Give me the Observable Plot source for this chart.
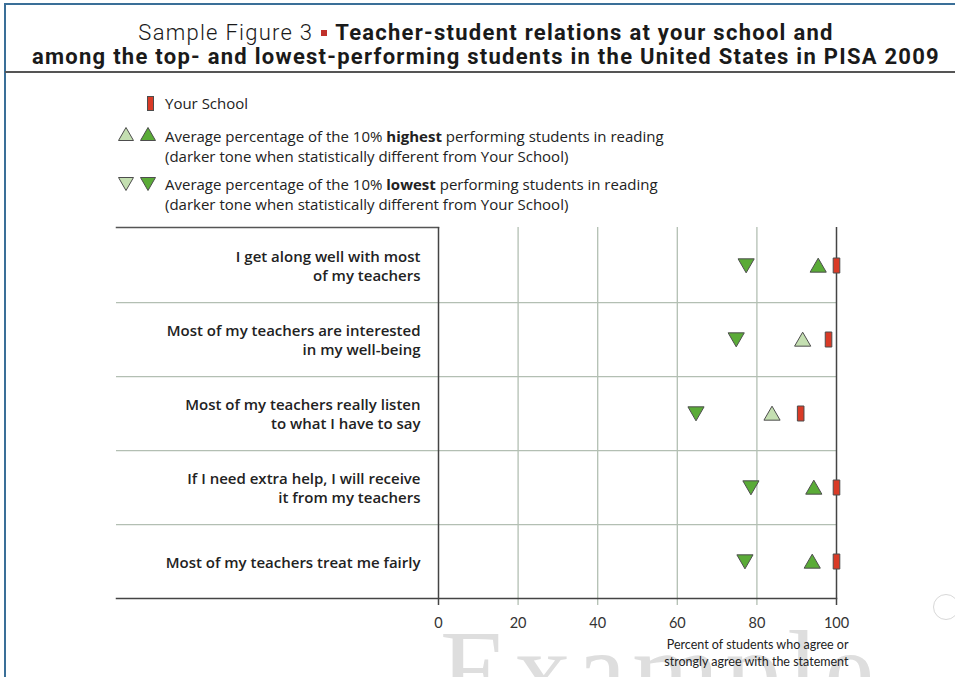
<!DOCTYPE html>
<html>
<head>
<meta charset="utf-8">
<script src="https://cdn.jsdelivr.net/npm/d3@7"></script>
<script src="https://cdn.jsdelivr.net/npm/@observablehq/plot@0.6"></script>
<style>
  html, body { margin: 0; padding: 0; background: #fff; }
  body { width: 955px; height: 677px; position: relative; overflow: hidden; font-family: "Open Sans", Lato, sans-serif; color: #222; }
  .frame-top { position: absolute; left: 4px; top: 3px; width: 960px; height: 2px; background: #3a6f98; }
  .frame-left { position: absolute; left: 4px; top: 3px; width: 2px; height: 700px; background: #3a6f98; }
  .title-sep { position: absolute; left: 5px; top: 71px; width: 960px; height: 2px; background: #555; }
  .title { position: absolute; left: 0; top: 21px; width: 972px; text-align: center; font-family: Roboto, sans-serif; font-size: 22px; line-height: 24px; color: #1a1a1a; white-space: nowrap; }
  .title .light { font-weight: 300; }
  .title .b { font-weight: 700; }
  .title .sq { display: inline-block; width: 6px; height: 6px; background: #c0302a; vertical-align: middle; margin: 0 8px 3px 8px; }
  .legend { position: absolute; left: 0; top: 0; font-size: 15px; line-height: 20px; }
  .legend .item { position: absolute; left: 165px; white-space: nowrap; }
  .legend .item b { font-weight: 700; }
  .legend svg { position: absolute; overflow: visible; }
  .watermark { position: absolute; left: 440px; top: 650px; font-family: "Liberation Serif", serif; font-size: 112px; line-height: 40px; color: #dedede; letter-spacing: 6px; white-space: nowrap; }
  .ring { position: absolute; left: 933px; top: 594px; width: 24px; height: 24px; border: 1.5px solid #d8d8d8; border-radius: 50%; }
  #chart { position: absolute; left: 0; top: 220px; }
</style>
</head>
<body>
<div class="watermark">Example</div>
<div class="ring"></div>
<div class="frame-top"></div>
<div class="frame-left"></div>
<div class="title" id="title"><span class="light">Sample Figure 3</span><span class="sq"></span><span class="b">Teacher-student relations at your school and</span><br><span class="b" id="title2">among the top- and lowest-performing students in the United States in PISA 2009</span></div>
<div class="title-sep"></div>
<div class="legend" id="legend"></div>
<div id="chart"></div>
<script>
// ---- data ----
const questions = [
  "I get along well with most\nof my teachers",
  "Most of my teachers are interested\nin my well-being",
  "Most of my teachers really listen\nto what I have to say",
  "If I need extra help, I will receive\nit from my teachers",
  "Most of my teachers treat me fairly"
];
const yourSchool = [100, 98, 91, 100, 100];
const highest10 = [95.4, 91.5, 83.8, 94.3, 93.9];
const highestSignificant = [true, false, false, true, true];
const lowest10 = [77.3, 74.8, 64.7, 78.5, 77.0];
const lowestSignificant = [true, true, true, true, true];
const xTicks = [0, 20, 40, 60, 80, 100];
const gridTicks = [20, 40, 60, 80];
const edgeTicks = [0, 100];
const axisCaption = "Percent of students who agree or\nstrongly agree with the statement";

// ---- colours ----
const darkGreen = "#5aab37";
const lightGreen = "#c4dfb1";
const red = "#d93a26";
const symStroke = "#4d4d4d";
const gridColor = "#b3bfb3";

// ---- fit title width to the reference (letter spacing) ----
(function fitTitle() {
  const t = document.getElementById("title");
  const s = document.getElementById("title2");
  const w = s.getBoundingClientRect().width;
  const n = s.textContent.length;
  if (w > 0 && w < 908) {
    t.style.letterSpacing = ((908 - w) / n).toFixed(3) + "px";
  } else if (w > 908) {
    t.style.fontSize = (22 * 908 / w).toFixed(2) + "px";
  }
})();

// ---- legend (HTML) ----
const legend = document.getElementById("legend");
legend.innerHTML = `
  <svg style="left:147px;top:96px" width="7" height="15"><rect x="0.5" y="0.5" width="6" height="14" fill="${red}" stroke="${symStroke}"/></svg>
  <div class="item" style="top:93px">Your School</div>
  <svg style="left:118px;top:127px" width="16" height="14"><path d="M8 0.5 L15.5 13.5 L0.5 13.5Z" fill="${lightGreen}" stroke="${symStroke}"/></svg>
  <svg style="left:140px;top:127px" width="16" height="14"><path d="M8 0.5 L15.5 13.5 L0.5 13.5Z" fill="${darkGreen}" stroke="${symStroke}"/></svg>
  <div class="item" style="top:126px">Average percentage of the 10% <b>highest</b> performing students in reading<br>(darker tone when statistically different from Your School)</div>
  <svg style="left:118px;top:177px" width="16" height="14"><path d="M0.5 0.5 L15.5 0.5 L8 13.5Z" fill="${lightGreen}" stroke="${symStroke}"/></svg>
  <svg style="left:140px;top:177px" width="16" height="14"><path d="M0.5 0.5 L15.5 0.5 L8 13.5Z" fill="${darkGreen}" stroke="${symStroke}"/></svg>
  <div class="item" style="top:174px">Average percentage of the 10% <b>lowest</b> performing students in reading<br>(darker tone when statistically different from Your School)</div>
`;

// ---- table for Plot ----
const rows = questions.map((q, i) => ({
  q,
  school: yourSchool[i],
  high: highest10[i],
  highSig: highestSignificant[i],
  low: lowest10[i],
  lowSig: lowestSignificant[i]
}));

const schoolSymbol = {
  draw(context, size) {
    const w = 3.3, h = 7.5;
    context.moveTo(-w, -h);
    context.lineTo(w, -h);
    context.lineTo(w, h);
    context.lineTo(-w, h);
    context.closePath();
  }
};

const rowH = (598 - 227) / questions.length;

const chart = Plot.plot({
  width: 955,
  height: 457,
  marginTop: 7,
  marginBottom: 79,
  marginLeft: 438,
  marginRight: 119,
  style: { fontFamily: "'Open Sans', Lato, sans-serif", color: "#222", background: "transparent" },
  x: { domain: [0, 100], axis: null },
  y: { type: "band", domain: questions, padding: 0, axis: null },
  marks: [
    // top border over label column
    Plot.frame({ anchor: "top", insetLeft: -322, insetRight: 398, stroke: "#555", strokeWidth: 1.5 }),
    // row separators
    Plot.ruleY(questions.slice(0, -1), { dy: rowH / 2, insetLeft: -322, stroke: gridColor, strokeWidth: 1.3 }),
    // grid lines with ticks
    Plot.ruleX(gridTicks, { insetBottom: -7, stroke: gridColor, strokeWidth: 1.3 }),
    Plot.ruleX(edgeTicks, { insetBottom: -7, stroke: "#444", strokeWidth: 1.5 }),
    // bottom axis line
    Plot.frame({ anchor: "bottom", insetLeft: -322, stroke: "#444", strokeWidth: 1.5 }),
    Plot.axisX(xTicks, { tickSize: 0, tickPadding: 19, fontSize: 14.5, fill: "#333", fontFamily: "Lato, sans-serif" }),
    // row labels
    Plot.text(rows, { y: "q", text: "q", frameAnchor: "left", dx: -18, textAnchor: "end", lineHeight: 1.25, fontSize: 15, fontWeight: 600, fill: "#222" }),
    // lowest performers (down triangles)
    Plot.dot(rows, { x: "low", y: "q", symbol: "triangle", rotate: 180, r: 6, fill: d => d.lowSig ? darkGreen : lightGreen, stroke: symStroke, strokeWidth: 1, dy: -2 }),
    // highest performers (up triangles)
    Plot.dot(rows, { x: "high", y: "q", symbol: "triangle", r: 6, fill: d => d.highSig ? darkGreen : lightGreen, stroke: symStroke, strokeWidth: 1, dy: 2 }),
    // your school
    Plot.dot(rows, { x: "school", y: "q", symbol: schoolSymbol, r: 5, fill: red, stroke: symStroke, strokeWidth: 1 }),
    // axis caption
    Plot.text([axisCaption], { text: d => d, frameAnchor: "bottom-right", dx: 12, dy: 38, textAnchor: "end", lineAnchor: "top", lineHeight: 1.4, fontSize: 12.5, fill: "#222", fontFamily: "Lato, sans-serif" })
  ]
});
document.getElementById("chart").appendChild(chart);
</script>
</body>
</html>
